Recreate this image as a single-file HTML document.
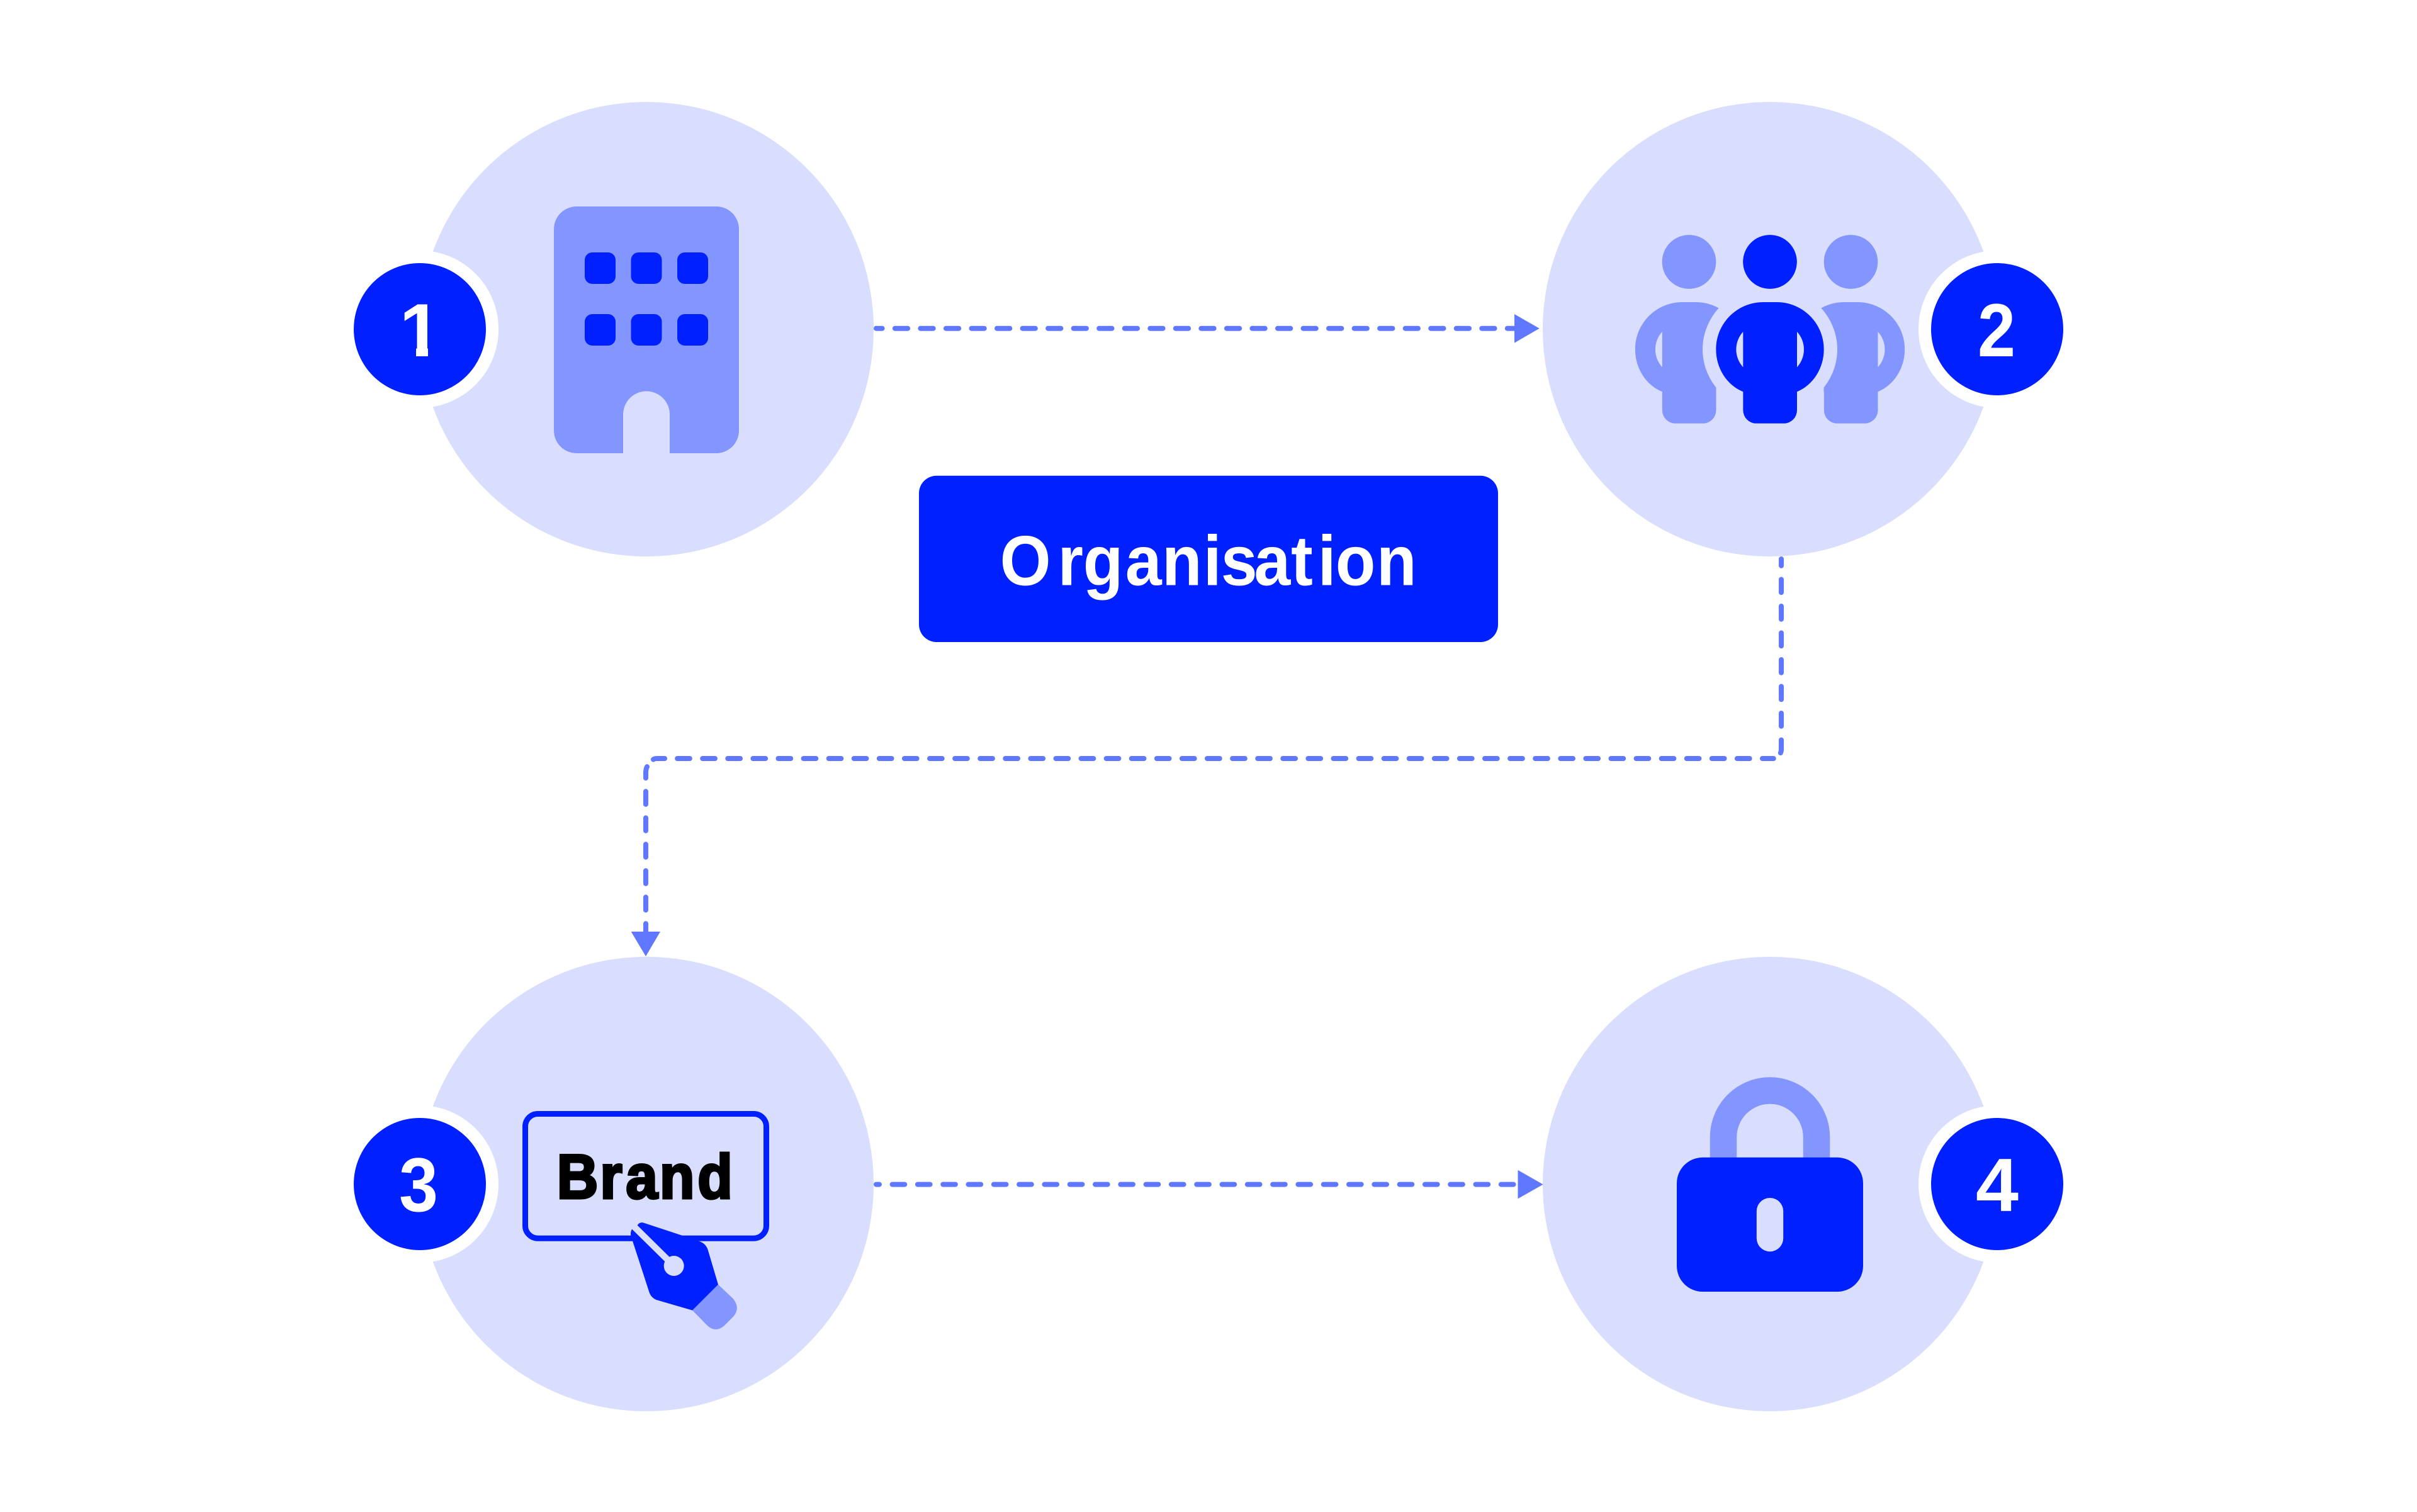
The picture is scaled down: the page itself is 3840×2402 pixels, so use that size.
<!DOCTYPE html>
<html lang="en">
<head>
<meta charset="utf-8">
<title>Diagram</title>
<style>
html,body{margin:0;padding:0;background:#fff;width:3840px;height:2402px;overflow:hidden}
svg{display:block}
text{font-family:"Liberation Sans",sans-serif;font-weight:700}
</style>
</head>
<body>
<svg width="3840" height="2402" viewBox="0 0 3840 2402" xmlns="http://www.w3.org/2000/svg">
<defs>
<path id="p" fill-rule="evenodd" d="M628 817C550 785 499 705 499 615C499 490 600 390 725 390H788C912 390 1013 490 1013 615C1013 705 962 785 885 817V905A63 63 0 0 1 822 968H691A63 63 0 0 1 628 905ZM628 531A125 125 0 0 0 628 700ZM885 531A125 125 0 0 1 885 700Z"/>
</defs>
<rect width="3840" height="2402" fill="#fff"/>

<!-- circles -->
<circle cx="1027" cy="523" r="361" fill="#d9deff"/>
<circle cx="2812" cy="523" r="361" fill="#d9deff"/>
<circle cx="1027" cy="1881" r="361" fill="#d9deff"/>
<circle cx="2812" cy="1881" r="361" fill="#d9deff"/>

<!-- badges -->
<g fill="#fff">
<circle cx="667" cy="523" r="125"/><circle cx="3173" cy="523" r="125"/>
<circle cx="667" cy="1881" r="125"/><circle cx="3173" cy="1881" r="125"/>
</g>
<g fill="#0020ff">
<circle cx="667" cy="523" r="105"/><circle cx="3173" cy="523" r="105"/>
<circle cx="667" cy="1881" r="105"/><circle cx="3173" cy="1881" r="105"/>
</g>
<g fill="#fff">
<text x="634.500" y="566" font-size="120">1</text>
</g>
<!-- trims the foot of the "1" glyph -->
<rect x="625" y="548" width="36" height="24" fill="#0020ff"/>
<rect x="680" y="548" width="30" height="24" fill="#0020ff"/>
<g fill="#fff">
<text x="3142" y="566" font-size="120" textLength="60" lengthAdjust="spacingAndGlyphs">2</text>
<text x="634" y="1924" font-size="122" textLength="62" lengthAdjust="spacingAndGlyphs">3</text>
<text x="3139" y="1924" font-size="120" textLength="68" lengthAdjust="spacingAndGlyphs">4</text>
</g>

<!-- building -->
<path d="M916 328H1138A36 36 0 0 1 1174 364V684A36 36 0 0 1 1138 720H1064V658.500A37 37 0 0 0 990 658.500V720H916A36 36 0 0 1 880 684V364A36 36 0 0 1 916 328Z" fill="#8395ff"/>
<g fill="#0020ff">
<rect x="929" y="401" width="49" height="50" rx="12"/><rect x="1002.500" y="401" width="49" height="50" rx="12"/><rect x="1076" y="401" width="49" height="50" rx="12"/>
<rect x="929" y="499" width="49" height="50" rx="12"/><rect x="1002.500" y="499" width="49" height="50" rx="12"/><rect x="1076" y="499" width="49" height="50" rx="12"/>
</g>

<!-- people -->
<g transform="translate(2560 350) scale(.33333)">
<circle cx="370.500" cy="198" r="128.500" fill="#8395ff"/>
<circle cx="1141.500" cy="198" r="128.500" fill="#8395ff"/>
<use href="#p" x="-385.500" fill="#8395ff"/>
<use href="#p" x="385.500" fill="#8395ff"/>
<ellipse cx="756" cy="615" rx="321" ry="303" fill="#d9deff"/>
<rect x="499.500" y="780" width="513" height="50" fill="#d9deff"/>
<circle cx="756" cy="198" r="128.500" fill="#0020ff"/>
<use href="#p" fill="#0020ff"/>
</g>

<!-- organisation box -->
<rect x="1460" y="755.700" width="920" height="264.300" rx="28" fill="#0020ff"/>
<text transform="scale(.93 1)" x="1708.200 1807 1850.300 1922.300 1985 2055.700 2085.700 2142.300 2205.500 2251.200 2281.500 2351.600" y="929.500" font-size="112" fill="#fff">Organisation</text>

<!-- brand -->
<rect x="834.500" y="1769.500" width="383" height="197.700" rx="20" fill="none" stroke="#0020ff" stroke-width="9"/>
<text transform="scale(.92 1)" x="961.500 1036.200 1080.700 1139 1204.700" y="1903.500" font-size="99" fill="#000" stroke="#000" stroke-width="4">Brand</text>
<g transform="translate(800 1720) scale(.33333)">
<path d="M1023 962L1095 1030Q1130 1075 1095 1115L1055 1155Q1012 1195 972 1158L900 1085Z" fill="#8395ff"/>
<path d="M638 680Q648 662 668 668L850 728L930 755Q965 765 975 800L1023 962L900 1085L735 1037Q705 1028 695 1000L612 745Q600 720 612 698Z" fill="#0020ff"/>
<line x1="615" y1="679" x2="812" y2="873" stroke="#d9deff" stroke-width="31"/>
<circle cx="812" cy="873" r="48" fill="#d9deff"/>
</g>

<!-- lock -->
<path d="M2738 1845V1806.500A74 74 0 0 1 2886 1806.500V1845" fill="none" stroke="#8395ff" stroke-width="42.500"/>
<path fill-rule="evenodd" fill="#0020ff" d="M2705 1838.800H2919A41 41 0 0 1 2960 1879.800V2011A41 41 0 0 1 2919 2052H2705A41 41 0 0 1 2664 2011V1879.800A41 41 0 0 1 2705 1838.800ZM2812 1903A21.200 21.200 0 0 0 2790.800 1924.200V1967.100A21.200 21.200 0 0 0 2833.200 1967.100V1924.200A21.200 21.200 0 0 0 2812 1903Z"/>

<!-- connectors -->
<g fill="none" stroke="#5f78ff" stroke-width="8" stroke-linecap="round">
<path d="M1392 521.700H2406" stroke-dasharray="20.300 20.240" stroke-dashoffset="10.700"/>
<path d="M1392 1881.600H2412" stroke-dasharray="19.700 20.600" stroke-dashoffset="14.700"/>
<path d="M2830 888V1190Q2830 1197 2826 1199" stroke-dasharray="20.700 21.800" stroke-dashoffset="10"/>
<path d="M2817.700 1205H1056" stroke-dasharray="19.700 20.390" stroke-dashoffset="2"/>
<path d="M1056 1205H1044Q1040 1205 1038 1206.500"/>
<path d="M1028 1218Q1026 1222 1026 1228V1236"/>
<path d="M1026 1257.300V1480" stroke-dasharray="20.400 21.600"/>
</g>
<g fill="#5f78ff">
<path d="M2406 499L2445.700 521.800L2406 544.700Z"/>
<path d="M2411.500 1858.800L2451.600 1881.600L2411.500 1904.400Z"/>
<path d="M1002.700 1480H1049L1026 1519.300Z"/>
</g>
</svg>
</body>
</html>
